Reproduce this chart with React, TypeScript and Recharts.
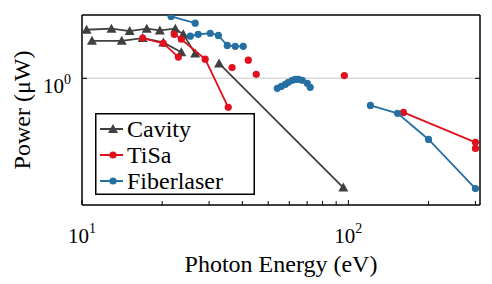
import { ScatterChart, Scatter, XAxis, YAxis, ReferenceLine, Legend } from 'recharts';

// photon energy (eV) / power (µW)
const cavityAX = [10.4, 12.9, 15.1, 17.5, 19.6, 22.4, 24.0, 26.6];
const cavityAY = [2.02, 2.05, 1.98, 2.05, 2.0, 2.05, 1.89, 1.43];
const cavityBX = [10.9, 14.1, 16.9, 20.2, 23.6];
const cavityBY = [1.72, 1.72, 1.79, 1.68, 1.46];
const cavityCX = [32.7, 95.7];
const cavityCY = [1.24, 0.206];

const tisaAX = [16.9, 20.2, 23.0];
const tisaAY = [1.79, 1.66, 1.36];
const tisaBX = [22.2, 23.6, 29.0, 35.4];
const tisaBY = [1.89, 1.76, 1.32, 0.657];
const tisaDotsX = [36.6, 42.1, 45.1, 96.6];
const tisaDotsY = [1.17, 1.3, 1.06, 1.04];
const tisaCX = [161, 300, 300];
const tisaCY = [0.611, 0.396, 0.363];

const fiberAX = [21.6, 26.6];
const fiberAY = [2.45, 2.22];
const fiberBX = [25.5, 27.3, 30.3, 32.5, 35.1, 37.6, 40.3];
const fiberBY = [1.84, 1.89, 1.92, 1.86, 1.61, 1.59, 1.59];
const fiberCX = [54.1, 56.0, 58.0, 59.5, 61.6, 63.2, 64.9, 67.1, 70.1, 71.9];
const fiberCY = [0.865, 0.89, 0.917, 0.944, 0.971, 0.986, 0.986, 0.971, 0.93, 0.878];
const fiberDX = [121, 153, 200, 300];
const fiberDY = [0.676, 0.603, 0.413, 0.203];

const xTicks = [10, 20, 30, 40, 50, 60, 70, 80, 90, 100, 200, 300];
const xLabels: Record<number, string> = { 10: '1', 100: '2' };
const yTicks = [1];

const GRAY = '#404040';
const RED = '#e0101e';
const BLUE = '#266fa2';
const FONT = 'Liberation Serif, Times New Roman, Times, DejaVu Serif, serif';
const serif = (size: number) => ({ fontFamily: FONT, fontSize: size });

const zip = (xs: number[], ys: number[]) => xs.map((x, i) => ({ x, y: ys[i] }));

const dot = (color: string) => (p: any) => <circle cx={p.cx} cy={p.cy} r={3.6} fill={color} />;
const tri = (p: any) => (
  <polygon points={`${p.cx},${p.cy - 5} ${p.cx - 5},${p.cy + 4} ${p.cx + 5},${p.cy + 4}`} fill={GRAY} />
);

const BottomTick = ({ x, y, payload }: any) => {
  const v = payload.value;
  const major = v === 10 || v === 100;
  return (
    <g>
      <line x1={x} y1={y} x2={x} y2={y - (major ? 5 : 4)} stroke="#000" strokeWidth={1} />
      {xLabels[v] && (
        <text x={x} y={y + 38} textAnchor="middle" style={serif(21)} fill="#000">
          10<tspan dy={-10} style={serif(14)}>{xLabels[v]}</tspan>
        </text>
      )}
    </g>
  );
};

const TopTick = ({ x, y, payload }: any) => {
  const major = payload.value === 10 || payload.value === 100;
  return <line x1={x} y1={y} x2={x} y2={y + (major ? 5 : 4)} stroke="#000" strokeWidth={1} />;
};

const LeftTick = ({ x, y }: any) => (
  <g>
    <line x1={x} y1={y} x2={x + 5} y2={y} stroke="#000" strokeWidth={1} />
    <text x={x - 11} y={y + 15} textAnchor="end" style={serif(21)} fill="#000">
      10<tspan dy={-9} style={serif(14)}>0</tspan>
    </text>
  </g>
);

const RightTick = ({ x, y }: any) => (
  <line x1={x} y1={y} x2={x - 5} y2={y} stroke="#000" strokeWidth={1} />
);

const legendRows = [
  { name: 'Cavity', color: GRAY, marker: 'tri' },
  { name: 'TiSa', color: RED, marker: 'dot' },
  { name: 'Fiberlaser', color: BLUE, marker: 'dot' },
];

const LegendBox = () => (
  <svg width={160} height={82} style={{ display: 'block' }}>
    <rect x={0.75} y={0.75} width={158.5} height={80.5} fill="#fff" stroke="#000" strokeWidth={1.5} />
    {legendRows.map((r, i) => {
      const cy = 16 + i * 26;
      return (
        <g key={r.name}>
          <line x1={5} y1={cy} x2={28} y2={cy} stroke={r.color} strokeWidth={2} />
          {r.marker === 'tri' ? (
            <polygon points={`18,${cy - 5} 13,${cy + 4} 23,${cy + 4}`} fill={r.color} />
          ) : (
            <circle cx={18} cy={cy} r={3.6} fill={r.color} />
          )}
          <text x={32} y={cy + 8} style={serif(24)} fill="#000">
            {r.name}
          </text>
        </g>
      );
    })}
  </svg>
);

const lineStyle = (color: string) => ({ stroke: color, strokeWidth: 1.8 });

export default function App() {
  return (
    <div style={{ position: 'absolute', left: 0, top: 0, width: 492, height: 284, background: '#fff', fontFamily: FONT }}>
      <ScatterChart width={492} height={284} margin={{ top: 0, right: 0, bottom: 0, left: 0 }}>
        <XAxis
          dataKey="x"
          type="number"
          scale="log"
          domain={[10, 312]}
          allowDataOverflow
          ticks={xTicks}
          interval={0}
          height={79}
          tickSize={0}
          tickMargin={0}
          tickLine={false}
          tick={<BottomTick />}
          axisLine={{ stroke: '#000', strokeWidth: 1.5 }}
        />
        <XAxis
          xAxisId="top"
          orientation="top"
          type="number"
          scale="log"
          domain={[10, 312]}
          allowDataOverflow
          ticks={xTicks}
          interval={0}
          height={15}
          tickSize={0}
          tickMargin={0}
          tickLine={false}
          tick={<TopTick />}
          axisLine={{ stroke: '#000', strokeWidth: 1.5 }}
        />
        <YAxis
          dataKey="y"
          type="number"
          scale="log"
          domain={[0.16, 2.5]}
          allowDataOverflow
          ticks={yTicks}
          width={82}
          tickSize={0}
          tickMargin={0}
          tickLine={false}
          tick={<LeftTick />}
          axisLine={{ stroke: '#000', strokeWidth: 1.5 }}
        />
        <YAxis
          yAxisId="right"
          orientation="right"
          type="number"
          scale="log"
          domain={[0.16, 2.5]}
          allowDataOverflow
          ticks={yTicks}
          width={12}
          tickSize={0}
          tickMargin={0}
          tickLine={false}
          tick={<RightTick />}
          axisLine={{ stroke: '#000', strokeWidth: 1.5 }}
        />
        <ReferenceLine y={1} stroke="#d9d9d9" strokeWidth={1.5} />

        <Scatter data={zip(cavityAX, cavityAY)} fill={GRAY} line={lineStyle(GRAY)} shape={tri} isAnimationActive={false} />
        <Scatter data={zip(cavityBX, cavityBY)} fill={GRAY} line={lineStyle(GRAY)} shape={tri} isAnimationActive={false} />
        <Scatter data={zip(cavityCX, cavityCY)} fill={GRAY} line={lineStyle(GRAY)} shape={tri} isAnimationActive={false} />

        <Scatter data={zip(tisaAX, tisaAY)} fill={RED} line={lineStyle(RED)} shape={dot(RED)} isAnimationActive={false} />
        <Scatter data={zip(tisaBX, tisaBY)} fill={RED} line={lineStyle(RED)} shape={dot(RED)} isAnimationActive={false} />
        <Scatter data={zip(tisaDotsX, tisaDotsY)} fill={RED} shape={dot(RED)} isAnimationActive={false} />
        <Scatter data={zip(tisaCX, tisaCY)} fill={RED} line={lineStyle(RED)} shape={dot(RED)} isAnimationActive={false} />

        <Scatter data={zip(fiberAX, fiberAY)} fill={BLUE} line={lineStyle(BLUE)} shape={dot(BLUE)} isAnimationActive={false} />
        <Scatter data={zip(fiberBX, fiberBY)} fill={BLUE} line={lineStyle(BLUE)} shape={dot(BLUE)} isAnimationActive={false} />
        <Scatter data={zip(fiberCX, fiberCY)} fill={BLUE} line={lineStyle(BLUE)} shape={dot(BLUE)} isAnimationActive={false} />
        <Scatter data={zip(fiberDX, fiberDY)} fill={BLUE} line={lineStyle(BLUE)} shape={dot(BLUE)} isAnimationActive={false} />

        <Legend
          verticalAlign="middle"
          layout="horizontal"
          content={<LegendBox />}
          wrapperStyle={{ position: 'absolute', left: 95, top: 113, width: 160, height: 82 }}
        />
      </ScatterChart>
      <svg width={492} height={284} style={{ position: 'absolute', left: 0, top: 0, pointerEvents: 'none' }}>
        <text x={281} y={272} textAnchor="middle" style={serif(24)} fill="#000">
          Photon Energy (eV)
        </text>
        <text
          x={22}
          y={110}
          textAnchor="middle"
          dominantBaseline="central"
          transform="rotate(-90 22 110)"
          style={serif(24)}
          fill="#000"
        >
          Power (μW)
        </text>
      </svg>
    </div>
  );
}
